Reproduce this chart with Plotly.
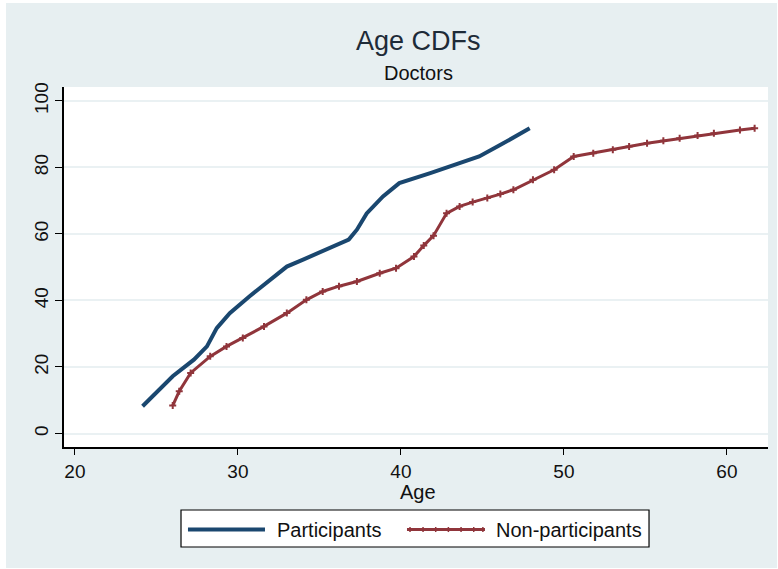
import plotly.graph_objects as go

# Cumulative share (%) of doctors at or below each age
participants_age = [24.15, 25.2, 26.0, 27.3, 28.1, 28.7, 29.5, 30.7, 32.0, 33.0, 34.0,
                    35.6, 36.8, 37.3, 37.9, 38.9, 39.9, 41.8, 44.8, 46.0, 47.0, 47.9]
participants_cdf = [8.2, 13.2, 17.2, 22.2, 26.2, 31.7, 36.2, 41.2, 46.2, 50.2, 52.3,
                    55.8, 58.3, 61.3, 66.2, 71.3, 75.3, 78.3, 83.3, 86.5, 89.3, 91.8]

nonpart_age = [26.0, 26.4, 27.1, 28.3, 29.3, 30.3, 31.6, 33.0, 34.2, 35.2, 36.2, 37.3,
               38.7, 39.7, 40.8, 41.4, 42.0, 42.8, 43.6, 44.4, 45.3, 46.1, 46.9, 48.1,
               49.4, 50.6, 51.8, 53.0, 54.0, 55.1, 56.1, 57.1, 58.2, 59.2, 60.8, 61.7]
nonpart_cdf = [8.4, 12.7, 18.2, 23.2, 26.2, 28.7, 32.2, 36.2, 40.2, 42.7, 44.3, 45.7,
               48.2, 49.7, 53.2, 56.5, 59.5, 66.2, 68.3, 69.6, 70.8, 72.0, 73.3, 76.3,
               79.3, 83.3, 84.3, 85.3, 86.3, 87.3, 88.0, 88.8, 89.6, 90.3, 91.3, 91.8]

series_names = ["Participants", "Non-participants"]
x_ticks = [20, 30, 40, 50, 60]
y_ticks = [0, 20, 40, 60, 80, 100]

BG = "#e7eff1"
BLUE = "#1a476f"
MAROON = "#90353b"
FONT = "Liberation Sans"
TXT = "#111111"

fig = go.Figure()
fig.add_trace(go.Scatter(
    x=participants_age, y=participants_cdf, name=series_names[0],
    mode="lines", line=dict(color=BLUE, width=4),
))
fig.add_trace(go.Scatter(
    x=nonpart_age, y=nonpart_cdf, name=series_names[1],
    mode="lines+markers", line=dict(color=MAROON, width=3),
    marker=dict(symbol="cross-thin", size=5, line=dict(color=MAROON, width=2)),
))

# Outer graph region and white plot region
fig.add_shape(type="rect", xref="paper", yref="paper", layer="below",
              x0=-0.0824, x1=1.0128, y0=-0.336, y1=1.2333,
              fillcolor=BG, line=dict(width=0))
fig.add_shape(type="rect", xref="paper", yref="paper", layer="below",
              x0=0, x1=1, y0=0, y1=1, fillcolor="white", line=dict(width=0))

# Titles
fig.add_annotation(text="Age CDFs", xref="paper", yref="paper", x=0.503, y=1.128,
                   yanchor="middle", showarrow=False,
                   font=dict(family=FONT, size=27, color="#1e2b38"))
fig.add_annotation(text="Doctors", xref="paper", yref="paper", x=0.503, y=1.04,
                   yanchor="middle", showarrow=False,
                   font=dict(family=FONT, size=20, color=TXT))

# x-axis title, set close under the tick labels
fig.add_annotation(text="Age", xref="paper", yref="paper", x=0.503, y=-0.126,
                   yanchor="middle", showarrow=False,
                   font=dict(family=FONT, size=20, color=TXT))

# Legend box below the axis
LEG_Y = -0.2292
fig.add_shape(type="rect", xref="paper", yref="paper",
              x0=0.1662, x1=0.8310, y0=-0.2778, y1=-0.1750,
              fillcolor="white", line=dict(color="black", width=1.2))
fig.add_shape(type="line", xref="paper", yref="paper",
              x0=0.1761, x1=0.2855, y0=LEG_Y, y1=LEG_Y,
              line=dict(color=BLUE, width=4))
fig.add_shape(type="line", xref="paper", yref="paper",
              x0=0.4872, x1=0.5980, y0=LEG_Y, y1=LEG_Y,
              line=dict(color=MAROON, width=3))
for xp in [0.4915, 0.5100, 0.5280, 0.5460, 0.5640, 0.5820, 0.5950]:
    fig.add_shape(type="line", xref="paper", yref="paper",
                  x0=xp, x1=xp, y0=LEG_Y - 0.007, y1=LEG_Y + 0.007,
                  line=dict(color=MAROON, width=1.5))
fig.add_annotation(text=series_names[0], xref="paper", yref="paper",
                   x=0.2997, y=LEG_Y, xanchor="left", yanchor="middle", showarrow=False,
                   font=dict(family=FONT, size=20, color=TXT))
fig.add_annotation(text=series_names[1], xref="paper", yref="paper",
                   x=0.6115, y=LEG_Y, xanchor="left", yanchor="middle", showarrow=False,
                   font=dict(family=FONT, size=20, color=TXT))

fig.update_layout(
    width=778, height=569,
    margin=dict(l=64, r=10, t=87, b=122),
    paper_bgcolor="white", plot_bgcolor="white",
    font=dict(family=FONT, size=19, color=TXT),
    showlegend=False,
)
fig.update_xaxes(
    range=[19.33, 62.52], tickvals=x_ticks, showgrid=False, zeroline=False,
    showline=True, linecolor="black", linewidth=1.5,
    ticks="outside", ticklen=6, tickcolor="black",
    tickfont=dict(family=FONT, size=19, color=TXT),
)
fig.update_yaxes(
    range=[-4.06, 104.2], tickvals=y_ticks, showgrid=True, gridcolor="#eaf1f3",
    gridwidth=1.5, zeroline=False,
    showline=True, linecolor="black", linewidth=1.5,
    ticks="outside", ticklen=7, tickcolor="black", tickangle=-90,
    tickfont=dict(family=FONT, size=19, color=TXT),
)

fig.write_html("out.html")
